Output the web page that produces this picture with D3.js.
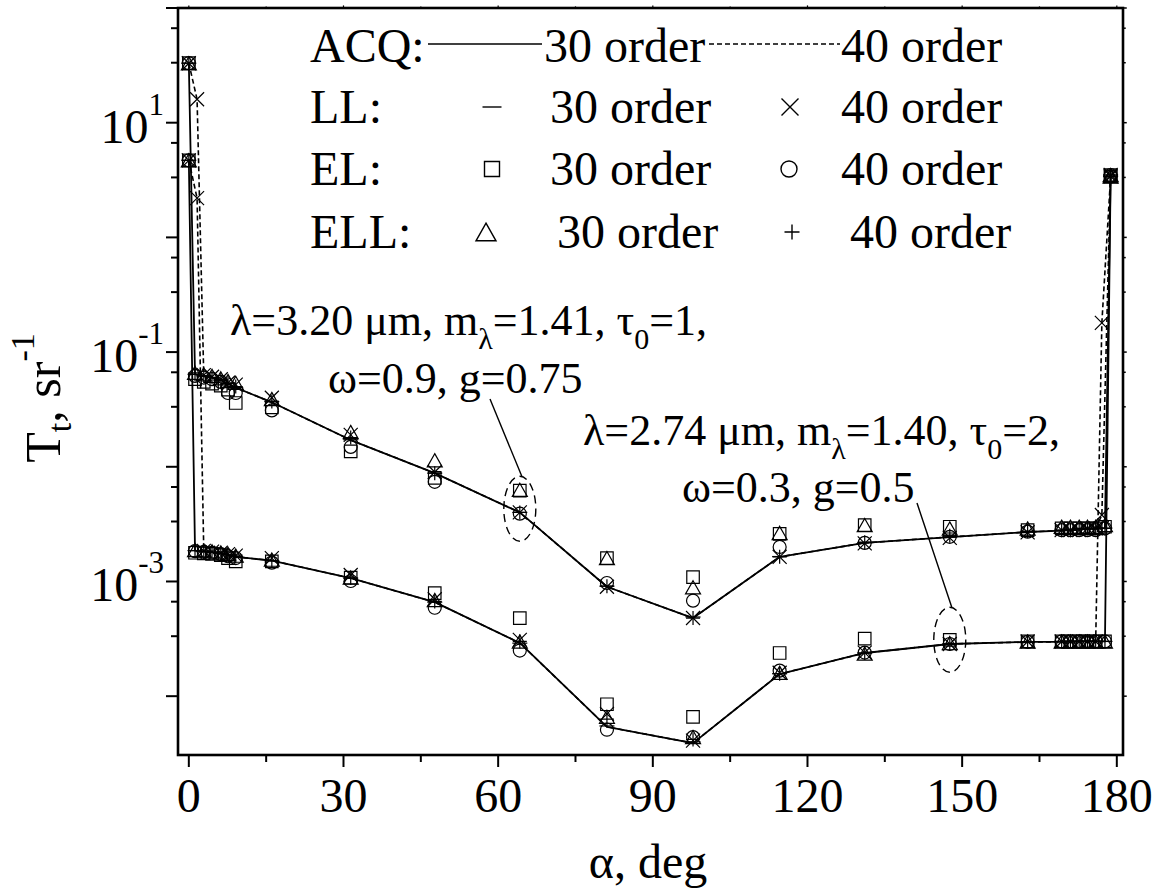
<!DOCTYPE html>
<html>
<head>
<meta charset="utf-8">
<script src="https://cdn.jsdelivr.net/npm/d3@7/dist/d3.min.js"></script>
<style>
  html, body { margin: 0; padding: 0; background: #fff; }
  svg { display: block; }
  text { font-family: "Liberation Serif", "Times New Roman", serif; fill: #000; }
</style>
</head>
<body>
<svg id="chart" width="1159" height="892"></svg>
<script>
// Scattering angles of the 30-order quadrature nodes, deg
const angles = [0, 1.2, 2.9, 4.5, 6.2, 7.6, 9.1, 16.1, 31.4, 47.7, 64.2, 81.1, 97.8,
                114.6, 131.1, 147.6, 162.7, 169.3, 171.0, 172.7, 174.3, 175.9, 177.7, 178.8];
// 40-order grid: the nodes next to the forward/backward directions differ
const angles40 = [0, 1.6, 2.9, 4.5, 6.2, 7.6, 9.1, 16.1, 31.4, 47.7, 64.2, 81.1, 97.8,
                  114.6, 131.1, 147.6, 162.7, 169.3, 171.0, 172.7, 174.3, 175.9, 177.1, 178.8];

// Case A: λ=3.20 μm, m=1.41, τ0=1, ω=0.9, g=0.75
const acq30A = [33, 0.064, 0.062, 0.060, 0.057, 0.053, 0.049, 0.0365, 0.0171, 0.0088, 0.0040, 0.00090, 0.00048, 0.00164, 0.00217, 0.00244, 0.00270, 0.00278, 0.00281, 0.00284, 0.00287, 0.00290, 0.00292, 3.5];
const acq40A = [33, 16, 0.062, 0.060, 0.057, 0.053, 0.049, 0.0365, 0.0171, 0.0088, 0.0040, 0.00090, 0.00048, 0.00164, 0.00217, 0.00244, 0.00270, 0.00278, 0.00281, 0.00284, 0.00287, 0.00290, 0.0038, 3.5];
const ll30A  = [33, 0.064, 0.062, 0.060, 0.057, 0.053, 0.049, 0.037, 0.0172, 0.0088, 0.0040, 0.00091, 0.00049, 0.00165, 0.00218, 0.00245, 0.00271, 0.00279, 0.00282, 0.00285, 0.00288, 0.00290, 0.00292, 3.5];
const ll40A  = [33, 16, 0.063, 0.061, 0.058, 0.054, 0.052, 0.040, 0.0190, 0.0090, 0.0040, 0.00090, 0.00048, 0.00164, 0.00215, 0.00240, 0.00268, 0.0028, 0.0028, 0.0028, 0.0029, 0.0029, 0.0038, 3.5];
const el30A  = [33, 0.058, 0.055, 0.053, 0.051, 0.047, 0.036, 0.033, 0.0136, 0.0080, 0.0062, 0.0016, 0.00109, 0.0026, 0.0031, 0.0030, 0.0028, 0.0029, 0.0029, 0.0029, 0.0029, 0.0029, 0.0030, 3.5];
const el40A  = [33, 0.062, 0.060, 0.058, 0.055, 0.044, 0.044, 0.031, 0.0149, 0.0074, 0.0039, 0.00097, 0.00068, 0.0020, 0.00217, 0.00245, 0.00272, 0.0028, 0.0028, 0.0028, 0.0028, 0.0028, 0.0029, 3.5];
const ell30A = [33, 0.066, 0.064, 0.062, 0.059, 0.056, 0.054, 0.039, 0.0201, 0.0114, 0.0063, 0.0016, 0.00089, 0.00265, 0.0031, 0.0029, 0.0029, 0.0030, 0.0030, 0.0030, 0.0030, 0.0030, 0.0031, 3.5];
const ell40A = [33, 0.064, 0.062, 0.060, 0.057, 0.054, 0.050, 0.037, 0.0180, 0.0088, 0.0040, 0.00091, 0.00048, 0.00164, 0.00220, 0.00250, 0.00275, 0.0028, 0.0028, 0.0029, 0.0029, 0.0029, 0.0029, 3.5];

// Case B: λ=2.74 μm, m=1.40, τ0=2, ω=0.3, g=0.5
const acq30B = [4.7, 0.00186, 0.00183, 0.00180, 0.00176, 0.00170, 0.00164, 0.00152, 0.00107, 0.00066, 0.000291, 0.000054, 0.000039, 0.000156, 0.000238, 0.000285, 0.000297, 0.000298, 0.000299, 0.000300, 0.000300, 0.000300, 0.000300, 3.4];
const acq40B = [4.7, 2.2, 0.00183, 0.00180, 0.00176, 0.00170, 0.00164, 0.00152, 0.00107, 0.00066, 0.000291, 0.000054, 0.000039, 0.000156, 0.000238, 0.000285, 0.000297, 0.000298, 0.000299, 0.000300, 0.000300, 0.000300, 0.18, 3.4];
const ll30B  = [4.7, 0.00186, 0.00183, 0.00180, 0.00176, 0.00170, 0.00164, 0.00152, 0.00107, 0.00066, 0.00029, 0.000055, 0.000040, 0.000157, 0.000238, 0.000285, 0.000297, 0.0003, 0.0003, 0.0003, 0.0003, 0.0003, 0.0003, 3.4];
const ll40B  = [4.7, 2.2, 0.00185, 0.00182, 0.00178, 0.00173, 0.00168, 0.00160, 0.00114, 0.00070, 0.00031, 0.000070, 0.000041, 0.000160, 0.000240, 0.000285, 0.000300, 0.0003, 0.0003, 0.0003, 0.0003, 0.0003, 0.18, 3.4];
const el30B  = [4.7, 0.00178, 0.00176, 0.00174, 0.00170, 0.00160, 0.00150, 0.00150, 0.00108, 0.00079, 0.00048, 0.000085, 0.000066, 0.000238, 0.000318, 0.000310, 0.000300, 0.0003, 0.0003, 0.0003, 0.0003, 0.0003, 0.0003, 3.4];
const el40B  = [4.7, 0.00184, 0.00181, 0.00178, 0.00173, 0.00166, 0.00160, 0.00146, 0.00101, 0.00059, 0.00025, 0.000051, 0.000044, 0.000167, 0.000240, 0.000285, 0.000297, 0.0003, 0.0003, 0.0003, 0.0003, 0.0003, 0.0003, 3.4];
const ell30B = [4.7, 0.00188, 0.00186, 0.00183, 0.00179, 0.00174, 0.00168, 0.00155, 0.00108, 0.00069, 0.00030, 0.000066, 0.000044, 0.000160, 0.000235, 0.000290, 0.000300, 0.0003, 0.0003, 0.0003, 0.0003, 0.0003, 0.0003, 3.4];
const ell40B = [4.7, 0.00186, 0.00183, 0.00180, 0.00176, 0.00171, 0.00165, 0.00152, 0.00107, 0.00067, 0.00030, 0.000063, 0.000042, 0.000157, 0.000238, 0.000287, 0.000298, 0.0003, 0.0003, 0.0003, 0.0003, 0.0003, 0.0003, 3.4];

// Axis ticks
const xMajorTicks = [0, 30, 60, 90, 120, 150, 180];
const xMinorTicks = [15, 45, 75, 105, 135, 165];
const yDecades = [-4, -3, -2, -1, 0, 1, 2];
const yLabelExponents = ["1", "-1", "-3"];

// Callout ellipses (angle, value) for the two cases
const calloutAngles = [64.2, 147.6];
const calloutValues = [0.0043, 0.00031];

const svg = d3.select("#chart");
const plotLeft = 178, plotRight = 1123, plotTop = 8, plotBottom = 755;

const x = d3.scaleLinear().domain([-2.1, 181.2]).range([plotLeft, plotRight]);
const y = d3.scaleLog().domain([3.07e-5, 100]).range([plotBottom, plotTop]);

// ---------- marker shapes ----------
const shapes = {
  dash:   s => `M${-s/2},0H${s/2}`,
  times:  s => `M${-s/2},${-s/2}L${s/2},${s/2}M${s/2},${-s/2}L${-s/2},${s/2}`,
  square: s => `M${-s/2},${-s/2}h${s}v${s}h${-s}Z`,
  circle: s => { const r = s/2; return `M${r},0A${r},${r} 0 1,1 ${-r},0A${r},${r} 0 1,1 ${r},0Z`; },
  tri:    s => { const w = s, h = s*0.88; return `M0,${-h/2}L${w/2},${h/2}L${-w/2},${h/2}Z`; },
  plus:   s => `M${-s/2},0H${s/2}M0,${-s/2}V${s/2}`
};
const markerSize = { dash: 15, times: 14, square: 12.5, circle: 13, tri: 15, plus: 14 };
const legendSize = { dash: 19, times: 17, square: 15, circle: 16, tri: 20, plus: 15 };

// ---------- plot lines ----------
const plot = svg.append("g");
const line = d3.line().x(d => x(d[0])).y(d => y(d[1]));
const zip = (a, v) => a.map((t, i) => [t, v[i]]);

[[angles, acq30A], [angles, acq30B]].forEach(([a, v]) => {
  plot.append("path").datum(zip(a, v)).attr("d", line)
    .attr("fill", "none").attr("stroke", "#000").attr("stroke-width", 1.8)
    .attr("stroke-linejoin", "round");
});
[[angles40, acq40A], [angles40, acq40B]].forEach(([a, v]) => {
  plot.append("path").datum(zip(a, v)).attr("d", line)
    .attr("fill", "none").attr("stroke", "#000").attr("stroke-width", 1.6)
    .attr("stroke-dasharray", "5,3");
});

// ---------- markers ----------
const markerSeries = [
  { shape: "square", grid: angles,   vals: [el30A, el30B] },
  { shape: "circle", grid: angles,   vals: [el40A, el40B] },
  { shape: "tri",    grid: angles,   vals: [ell30A, ell30B] },
  { shape: "times",  grid: angles40, vals: [ll40A, ll40B] },
  { shape: "plus",   grid: angles,   vals: [ell40A, ell40B] },
  { shape: "dash",   grid: angles,   vals: [ll30A, ll30B] }
];
markerSeries.forEach(ms => {
  ms.vals.forEach(v => {
    plot.append("g").selectAll("path").data(zip(ms.grid, v)).join("path")
      .attr("transform", d => `translate(${x(d[0])},${y(d[1])})`)
      .attr("d", shapes[ms.shape](markerSize[ms.shape]))
      .attr("fill", "none").attr("stroke", "#000").attr("stroke-width", 1.2);
  });
});

// ---------- frame & ticks ----------
const axes = svg.append("g").attr("stroke", "#000").attr("stroke-linecap", "square");
axes.append("rect").attr("x", plotLeft).attr("y", plotTop)
  .attr("width", plotRight - plotLeft).attr("height", plotBottom - plotTop)
  .attr("fill", "none").attr("stroke-width", 2.6);

xMajorTicks.forEach(t => {
  axes.append("line").attr("x1", x(t)).attr("x2", x(t)).attr("y1", plotBottom).attr("y2", plotBottom + 11).attr("stroke-width", 2);
  axes.append("line").attr("x1", x(t)).attr("x2", x(t)).attr("y1", plotTop).attr("y2", plotTop - 2).attr("stroke-width", 1.2);
});
xMinorTicks.forEach(t => {
  axes.append("line").attr("x1", x(t)).attr("x2", x(t)).attr("y1", plotBottom).attr("y2", plotBottom + 6).attr("stroke-width", 2);
  axes.append("line").attr("x1", x(t)).attr("x2", x(t)).attr("y1", plotTop).attr("y2", plotTop - 1).attr("stroke-width", 1.2);
});
const [yLo, yHi] = y.domain();
yDecades.forEach(k => {
  const v = Math.pow(10, k);
  if (v >= yLo && v <= yHi) {
    axes.append("line").attr("x1", plotLeft).attr("x2", plotLeft - 11).attr("y1", y(v)).attr("y2", y(v)).attr("stroke-width", 2);
    axes.append("line").attr("x1", plotRight).attr("x2", plotRight + 3).attr("y1", y(v)).attr("y2", y(v)).attr("stroke-width", 1.5);
  }
  [10 / 3, 20 / 3].forEach(m => {
    const w = v * m;
    if (w > yLo && w < yHi) {
      axes.append("line").attr("x1", plotLeft).attr("x2", plotLeft - 6).attr("y1", y(w)).attr("y2", y(w)).attr("stroke-width", 2);
      axes.append("line").attr("x1", plotRight).attr("x2", plotRight + 2).attr("y1", y(w)).attr("y2", y(w)).attr("stroke-width", 1.5);
    }
  });
});

// ---------- tick labels ----------
const labels = svg.append("g");
labels.selectAll("text.xt").data(xMajorTicks).join("text")
  .attr("x", d => x(d)).attr("y", 812).attr("text-anchor", "middle")
  .attr("font-size", 48).text(d => d);

yLabelExponents.forEach(e => {
  const v = Math.pow(10, +e);
  const t = labels.append("text").attr("x", 164).attr("y", y(v) + 20)
    .attr("text-anchor", "end").attr("font-size", 48);
  t.append("tspan").text("10");
  t.append("tspan").attr("font-size", 31).attr("dy", -28).text(e);
});

// ---------- axis titles ----------
labels.append("text").attr("x", 648).attr("y", 878).attr("text-anchor", "middle")
  .attr("font-size", 48).text("α, deg");

const yt = labels.append("text").attr("transform", "translate(60,398) rotate(-90)")
  .attr("text-anchor", "middle").attr("font-size", 50);
yt.append("tspan").text("T");
yt.append("tspan").attr("font-size", 34).attr("dy", 11).text("t");
yt.append("tspan").attr("dy", -11).text(", sr");
yt.append("tspan").attr("font-size", 34).attr("dy", -26).text("-1");

// ---------- legend ----------
const lg = svg.append("g");
const rowY = [62, 123, 185, 248];
const rowNames = ["ACQ:", "LL:", "EL:", "ELL:"];
rowNames.forEach((n, i) => {
  lg.append("text").attr("x", 310).attr("y", rowY[i]).attr("font-size", 48).text(n);
});
lg.append("line").attr("x1", 428).attr("x2", 542).attr("y1", 44).attr("y2", 44)
  .attr("stroke", "#000").attr("stroke-width", 1.6);
lg.append("line").attr("x1", 709).attr("x2", 840).attr("y1", 44).attr("y2", 44)
  .attr("stroke", "#000").attr("stroke-width", 1.6).attr("stroke-dasharray", "5,3");
const order30X = [544, 550, 550, 557];
const order40X = [841, 841, 841, 850];
rowY.forEach((ry, i) => {
  lg.append("text").attr("x", order30X[i]).attr("y", ry).attr("font-size", 48).text("30 order");
  lg.append("text").attr("x", order40X[i]).attr("y", ry).attr("font-size", 48).text("40 order");
});
const legendMarks = [
  { shape: "dash",   cx: 492, row: 1 }, { shape: "times",  cx: 790, row: 1 },
  { shape: "square", cx: 492, row: 2 }, { shape: "circle", cx: 789, row: 2 },
  { shape: "tri",    cx: 486, row: 3 }, { shape: "plus",   cx: 792, row: 3 }
];
legendMarks.forEach(m => {
  lg.append("path").attr("transform", `translate(${m.cx},${rowY[m.row] - 16})`)
    .attr("d", shapes[m.shape](legendSize[m.shape]))
    .attr("fill", "none").attr("stroke", "#000").attr("stroke-width", 1.4);
});

// ---------- annotations ----------
const ann = svg.append("g");
function richLine(xp, yp, parts) {
  const t = ann.append("text").attr("x", xp).attr("y", yp).attr("font-size", 44);
  let shift = 0;
  parts.forEach(p => {
    const dy = (p.sub ? 14 : 0) - shift;
    shift = p.sub ? 14 : 0;
    const ts = t.append("tspan").text(p.t);
    if (dy) ts.attr("dy", dy);
    if (p.sub) ts.attr("font-size", 30);
  });
}
richLine(230, 335, [{t: "λ=3.20 μm, m"}, {t: "λ", sub: true}, {t: "=1.41, τ"}, {t: "0", sub: true}, {t: "=1,"}]);
richLine(328, 393, [{t: "ω=0.9, g=0.75"}]);
richLine(583, 445, [{t: "λ=2.74 μm, m"}, {t: "λ", sub: true}, {t: "=1.40, τ"}, {t: "0", sub: true}, {t: "=2,"}]);
richLine(682, 502, [{t: "ω=0.3, g=0.5"}]);

// callout ellipses and leaders
const rx = 16, ryE = 32.5;
calloutAngles.forEach((a, i) => {
  ann.append("ellipse").attr("cx", x(a)).attr("cy", y(calloutValues[i]))
    .attr("rx", rx).attr("ry", ryE).attr("fill", "none").attr("stroke", "#000")
    .attr("stroke-width", 1.4).attr("stroke-dasharray", "8,5");
});
const leaderStarts = [[490, 399], [917, 503]];
calloutAngles.forEach((a, i) => {
  ann.append("line").attr("x1", leaderStarts[i][0]).attr("y1", leaderStarts[i][1])
    .attr("x2", x(a) + 2).attr("y2", y(calloutValues[i]) - ryE)
    .attr("stroke", "#000").attr("stroke-width", 1.4);
});
</script>
</body>
</html>
